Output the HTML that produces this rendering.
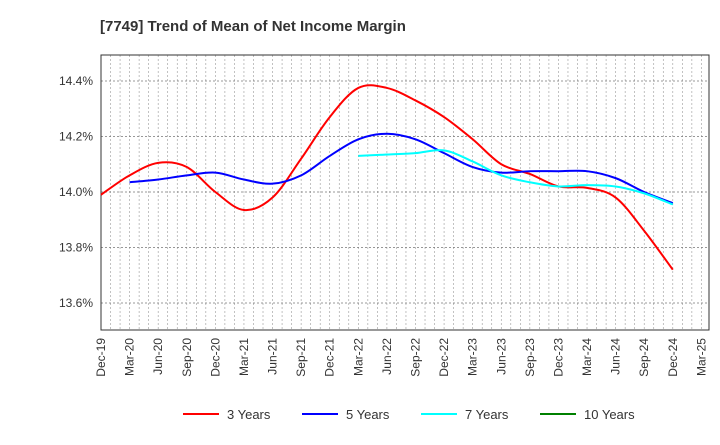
<!DOCTYPE html>
<html><head><meta charset="utf-8"><style>
body{margin:0;background:#fff;font-family:"Liberation Sans",sans-serif}
</style></head><body>
<svg id="c" width="720" height="440" xmlns="http://www.w3.org/2000/svg">
<text x="100" y="31" font-size="15" font-weight="bold" fill="#333">[7749]  Trend of Mean of Net Income Margin</text>
</svg>
<script>
const xLabels=["Dec-19","Mar-20","Jun-20","Sep-20","Dec-20","Mar-21","Jun-21","Sep-21","Dec-21","Mar-22","Jun-22","Sep-22","Dec-22","Mar-23","Jun-23","Sep-23","Dec-23","Mar-24","Jun-24","Sep-24","Dec-24","Mar-25"];
const yTicks=[13.6,13.8,14.0,14.2,14.4];
const s3=[13.99,14.06,14.105,14.09,14.00,13.935,13.98,14.12,14.27,14.375,14.375,14.33,14.27,14.19,14.10,14.065,14.02,14.015,13.98,13.86,13.72];
const s5=[null,14.035,14.045,14.06,14.07,14.045,14.03,14.06,14.13,14.19,14.21,14.19,14.14,14.09,14.07,14.075,14.075,14.075,14.05,14.0,13.96];
const s7=[null,null,null,null,null,null,null,null,null,14.13,14.135,14.14,14.15,14.11,14.06,14.035,14.02,14.025,14.02,13.995,13.955];
const s10=[];
const svg=document.getElementById('c');const NS='http://www.w3.org/2000/svg';
const L=101,R=709,T=55,B=330;
const X=i=>L+i*9.53*3;
const Y=v=>192-(v-14.0)*277.5;
function mk(t,a){const e=document.createElementNS(NS,t);for(const k in a)e.setAttribute(k,a[k]);svg.appendChild(e);return e;}
for(let m=0;m<=64;m++){const x=L+m*9.53;if(x>R-1)break;
const g=mk('line',{x1:x,x2:x,y1:T,y2:B,stroke:'#999','stroke-width':0.6,'stroke-dasharray':'2,2'});

}
yTicks.forEach(v=>{const g=mk('line',{x1:L,x2:R,y1:Y(v),y2:Y(v),stroke:'#777','stroke-width':0.8,'stroke-dasharray':'2,2'});


const t=mk('text',{x:L-8,y:Y(v)+4,'text-anchor':'end','font-size':12,fill:'#333'});t.textContent=v.toFixed(1)+'%';

});
const fr=mk('rect',{x:L,y:T,width:R-L,height:B-T,fill:'none',stroke:'#333','stroke-width':1});


xLabels.forEach((l,i)=>{const x=X(i);const t=mk('text',{x:x+4,y:B+8,'text-anchor':'end','font-size':12,fill:'#333',transform:`rotate(-90 ${x+4} ${B+8})`});t.textContent=l;

});
function path(arr){const p=[];arr.forEach((v,i)=>{if(v!=null)p.push([X(i),Y(v)]);});if(p.length<2)return '';
let d=`M${p[0][0]},${p[0][1]}`;for(let i=0;i<p.length-1;i++){const p0=p[i-1]||p[i],p1=p[i],p2=p[i+1],p3=p[i+2]||p2;
d+=`C${p1[0]+(p2[0]-p0[0])/6},${p1[1]+(p2[1]-p0[1])/6} ${p2[0]-(p3[0]-p1[0])/6},${p2[1]-(p3[1]-p1[1])/6} ${p2[0]},${p2[1]}`;}return d;}
[[s3,'#ff0000','series-3-years'],[s5,'#0000ff','series-5-years'],[s7,'#00ffff','series-7-years'],[s10,'#008000','series-10-years']].forEach(([a,c,n])=>{const d=path(a);if(!d)return;
const e=mk('path',{d:d,fill:'none',stroke:c,'stroke-width':2});

});
[['3 Years','#ff0000',183],['5 Years','#0000ff',302],['7 Years','#00ffff',421],['10 Years','#008000',540]].forEach(([n,c,x])=>{
const l=mk('line',{x1:x,x2:x+36,y1:414,y2:414,stroke:c,'stroke-width':2});


const t=mk('text',{x:x+44,y:419,'font-size':13,fill:'#333'});t.textContent=n;

});
</script>
</body></html>
